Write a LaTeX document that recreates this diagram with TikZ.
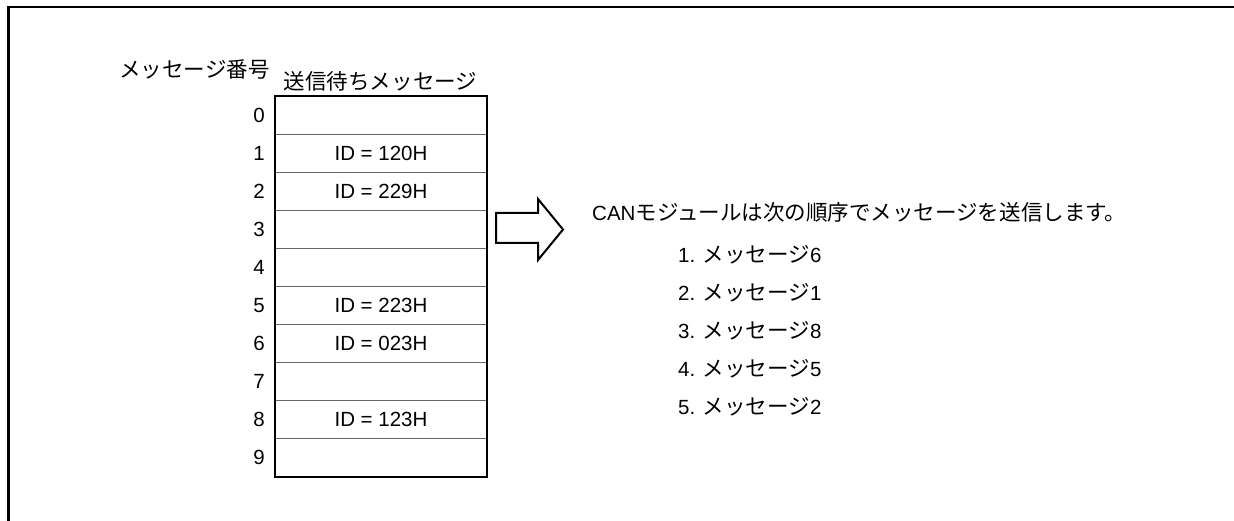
\documentclass[tikz,border=0pt]{standalone}
\usepackage{fontspec}
\setmainfont{Liberation Sans}
\newfontfamily\jp[Scale=1.05]{Noto Sans CJK JP}
\usetikzlibrary{positioning}

\begin{document}
\begin{tikzpicture}[x=1pt, y=-1pt, font=\fontsize{20.5}{24}\selectfont]
\tikzstyle{slot}=[draw=black!60, line width=1pt, minimum width=211pt, minimum height=38pt, inner sep=0pt, anchor=north west]
\tikzstyle{num}=[inner sep=0pt]
\tikzstyle{txt}=[anchor=west, inner sep=0pt]
\useasboundingbox (0,0) rectangle (1234,521);
\draw[line width=2.2pt] (8.5,521) -- (8.5,7) -- (1234,7);
% message buffer
\foreach \i in {0,...,9} {
  \node (row\i) [slot] at (275,{96+38*\i}) {};
  \node (no\i) [num, left=10pt of row\i.west] {\i};
}
\draw[line width=2.2pt] (row0.north west) rectangle (row9.south east);
\foreach \i/\id in {1/120H, 2/229H, 5/223H, 6/023H, 8/123H}
  \node (id\i) at (row\i) {ID = \id};
\node (hdr) at (380.5,81) {\jp 送信待ちメッセージ};
\node (nohdr) at (194.5,69) {\jp メッセージ番号};
% arrow
\draw[line width=2pt, line join=miter] (496,213) -- (538,213) -- (538,199) -- (563,229.5) -- (538,260) -- (538,243) -- (496,243) -- cycle;
% send order
\node (msg) [txt] at (592,212) {CAN{\jp モジュールは次の順序でメッセージを送信します。}};
\foreach \k/\m in {1/6, 2/1, 3/8, 4/5, 5/2}
  \node (ord\k) [txt] at (678,{255+38*(\k-1)}) {\k. {\jp メッセージ}\m};
\end{tikzpicture}
\end{document}
